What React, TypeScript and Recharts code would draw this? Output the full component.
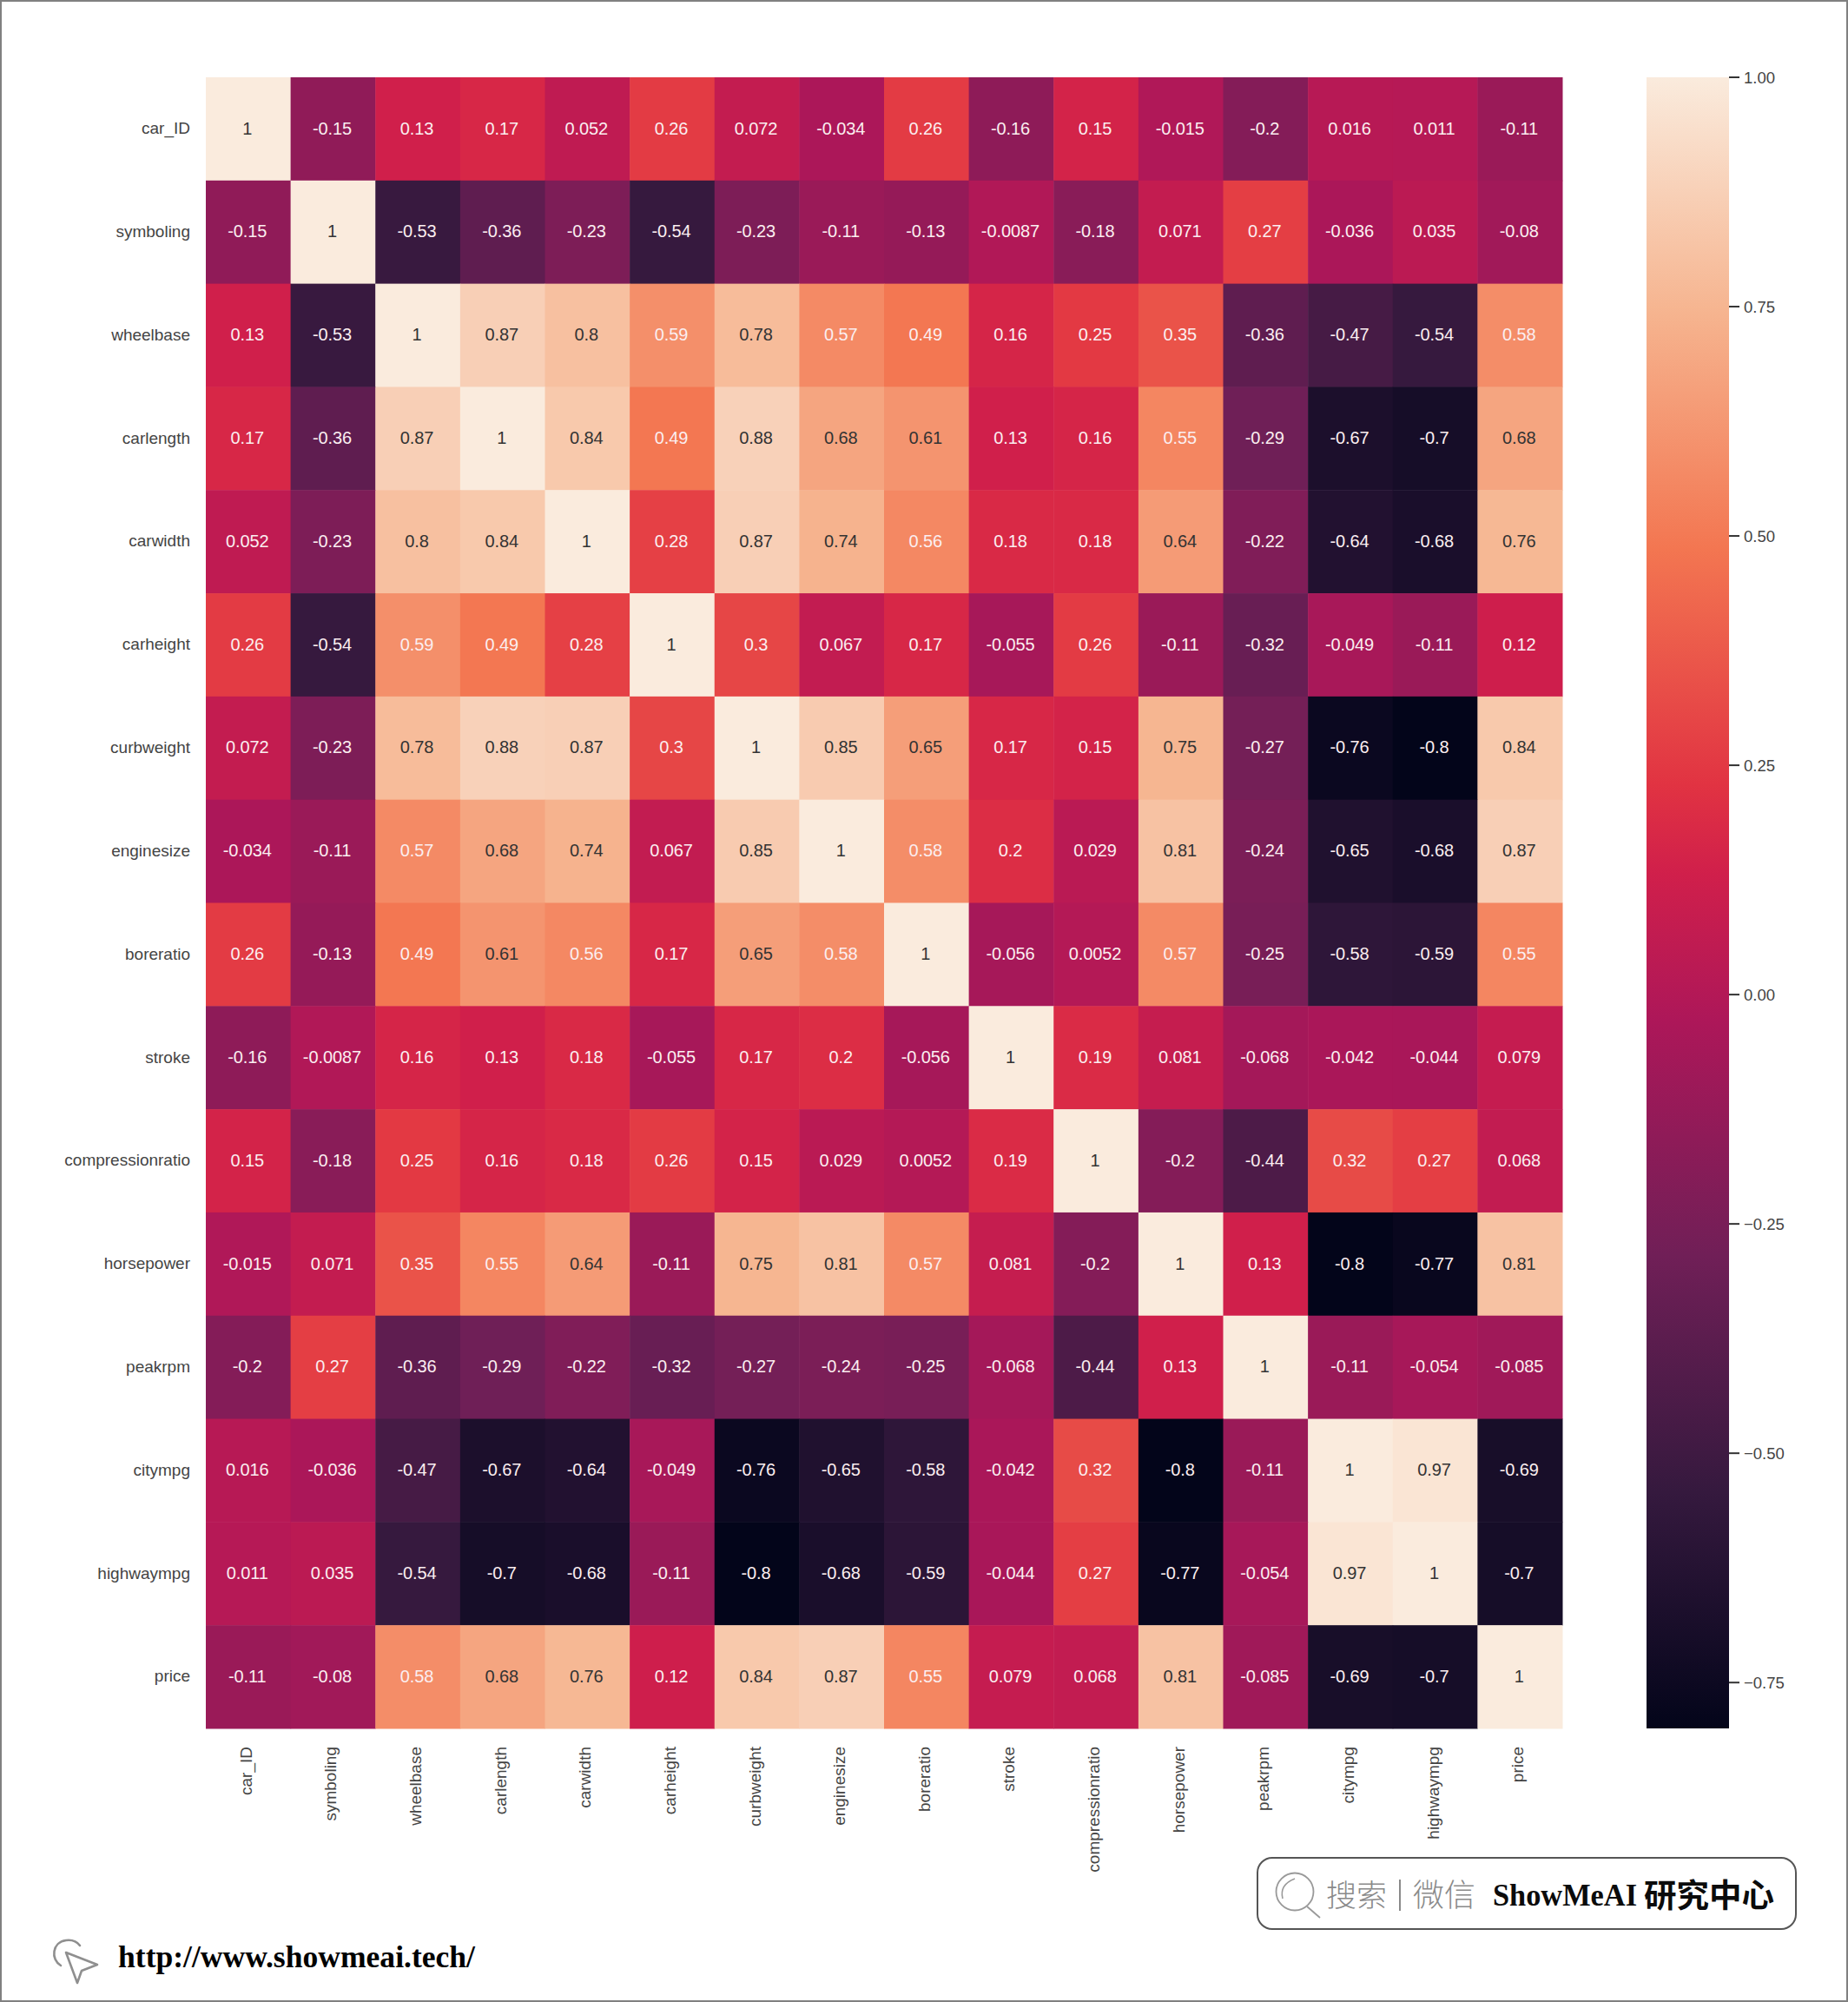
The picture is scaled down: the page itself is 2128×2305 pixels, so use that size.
import React from 'react';
import { ScatterChart, Scatter, BarChart, Bar, XAxis, YAxis } from 'recharts';

const W = 2128;
const H = 2305;

// plot box of the heatmap
const PLOT_L = 237;
const PLOT_R = 1799;
const PLOT_T = 89;
const PLOT_B = 1990;
const CB_L = 1896;
const CB_R = 1991;

const features = [
  'car_ID', 'symboling', 'wheelbase', 'carlength', 'carwidth', 'carheight',
  'curbweight', 'enginesize', 'boreratio', 'stroke', 'compressionratio',
  'horsepower', 'peakrpm', 'citympg', 'highwaympg', 'price',
];

const carId = [1, -0.15, 0.13, 0.17, 0.052, 0.26, 0.072, -0.034, 0.26, -0.16, 0.15, -0.015, -0.2, 0.016, 0.011, -0.11];
const symboling = [-0.15, 1, -0.53, -0.36, -0.23, -0.54, -0.23, -0.11, -0.13, -0.0087, -0.18, 0.071, 0.27, -0.036, 0.035, -0.08];
const wheelbase = [0.13, -0.53, 1, 0.87, 0.8, 0.59, 0.78, 0.57, 0.49, 0.16, 0.25, 0.35, -0.36, -0.47, -0.54, 0.58];
const carlength = [0.17, -0.36, 0.87, 1, 0.84, 0.49, 0.88, 0.68, 0.61, 0.13, 0.16, 0.55, -0.29, -0.67, -0.7, 0.68];
const carwidth = [0.052, -0.23, 0.8, 0.84, 1, 0.28, 0.87, 0.74, 0.56, 0.18, 0.18, 0.64, -0.22, -0.64, -0.68, 0.76];
const carheight = [0.26, -0.54, 0.59, 0.49, 0.28, 1, 0.3, 0.067, 0.17, -0.055, 0.26, -0.11, -0.32, -0.049, -0.11, 0.12];
const curbweight = [0.072, -0.23, 0.78, 0.88, 0.87, 0.3, 1, 0.85, 0.65, 0.17, 0.15, 0.75, -0.27, -0.76, -0.8, 0.84];
const enginesize = [-0.034, -0.11, 0.57, 0.68, 0.74, 0.067, 0.85, 1, 0.58, 0.2, 0.029, 0.81, -0.24, -0.65, -0.68, 0.87];
const boreratio = [0.26, -0.13, 0.49, 0.61, 0.56, 0.17, 0.65, 0.58, 1, -0.056, 0.0052, 0.57, -0.25, -0.58, -0.59, 0.55];
const stroke = [-0.16, -0.0087, 0.16, 0.13, 0.18, -0.055, 0.17, 0.2, -0.056, 1, 0.19, 0.081, -0.068, -0.042, -0.044, 0.079];
const compressionratio = [0.15, -0.18, 0.25, 0.16, 0.18, 0.26, 0.15, 0.029, 0.0052, 0.19, 1, -0.2, -0.44, 0.32, 0.27, 0.068];
const horsepower = [-0.015, 0.071, 0.35, 0.55, 0.64, -0.11, 0.75, 0.81, 0.57, 0.081, -0.2, 1, 0.13, -0.8, -0.77, 0.81];
const peakrpm = [-0.2, 0.27, -0.36, -0.29, -0.22, -0.32, -0.27, -0.24, -0.25, -0.068, -0.44, 0.13, 1, -0.11, -0.054, -0.085];
const citympg = [0.016, -0.036, -0.47, -0.67, -0.64, -0.049, -0.76, -0.65, -0.58, -0.042, 0.32, -0.8, -0.11, 1, 0.97, -0.69];
const highwaympg = [0.011, 0.035, -0.54, -0.7, -0.68, -0.11, -0.8, -0.68, -0.59, -0.044, 0.27, -0.77, -0.054, 0.97, 1, -0.7];
const price = [-0.11, -0.08, 0.58, 0.68, 0.76, 0.12, 0.84, 0.87, 0.55, 0.079, 0.068, 0.81, -0.085, -0.69, -0.7, 1];

const matrix = [
  carId, symboling, wheelbase, carlength, carwidth, carheight, curbweight, enginesize,
  boreratio, stroke, compressionratio, horsepower, peakrpm, citympg, highwaympg, price,
];

const VMIN = -0.8;
const VMAX = 1;
const cbTicks = [-0.75, -0.5, -0.25, 0, 0.25, 0.5, 0.75, 1];
const centerTicks = features.map((_, i) => i + 0.5);

// rocket colormap: the 6 colour palette sits at k/7, plus both ends and one red
const rocketPos = [0, 1 / 7, 2 / 7, 3 / 7, 0.517, 4 / 7, 5 / 7, 6 / 7, 1];
const rocketRgb = [
  [3, 5, 26], [53, 25, 62], [112, 31, 87], [173, 23, 89], [208, 31, 75],
  [225, 51, 66], [243, 118, 81], [246, 180, 143], [250, 235, 221],
];

function rocket(t: number) {
  let i = 0;
  while (i < rocketPos.length - 2 && t > rocketPos[i + 1]) i++;
  const f = Math.min(1, Math.max(0, (t - rocketPos[i]) / (rocketPos[i + 1] - rocketPos[i])));
  return rocketRgb[i].map((c, k) => Math.round(c + (rocketRgb[i + 1][k] - c) * f));
}

function toCss(rgb: number[]) {
  return `rgb(${rgb[0]},${rgb[1]},${rgb[2]})`;
}

// same rule seaborn uses to pick the annotation colour
function annotColor(rgb: number[]) {
  const lin = rgb.map((c) => {
    const v = c / 255;
    return v <= 0.03928 ? v / 12.92 : Math.pow((v + 0.055) / 1.055, 2.4);
  });
  const lum = 0.2126 * lin[0] + 0.7152 * lin[1] + 0.0722 * lin[2];
  return lum > 0.408 ? '#333333' : '#fbeef0';
}

const cells = matrix.flatMap((row, r) =>
  row.map((value, c) => ({ col: c + 0.5, row: r + 0.5, value })),
);

const cbData = [{ name: 'colorbar', range: [VMIN, VMAX] }];

const FONT = '"Liberation Sans", Arial, sans-serif';
const cellW = (PLOT_R - PLOT_L) / features.length;
const cellH = (PLOT_B - PLOT_T) / features.length;

function HeatCell(props: any) {
  const { cx, cy, payload } = props;
  const rgb = rocket((payload.value - VMIN) / (VMAX - VMIN));
  return (
    <g>
      <rect
        x={cx - cellW / 2}
        y={cy - cellH / 2}
        width={cellW + 0.5}
        height={cellH + 0.5}
        fill={toCss(rgb)}
      />
      <text
        x={cx - 1}
        y={cy - 1}
        dy="0.36em"
        textAnchor="middle"
        fontFamily={FONT}
        fontSize={20}
        letterSpacing={-0.1}
        fill={annotColor(rgb)}
      >
        {String(payload.value)}
      </text>
    </g>
  );
}

function BottomTick(props: any) {
  const { x, y, payload } = props;
  const label = features[Math.round(payload.value - 0.5)];
  return (
    <text
      transform={`translate(${x + 4},${y}) rotate(-90)`}
      textAnchor="end"
      fontFamily={FONT}
      fontSize={19}
      fill="#444444"
    >
      {label}
    </text>
  );
}

function LeftTick(props: any) {
  const { x, y, payload } = props;
  const label = features[Math.round(payload.value - 0.5)];
  return (
    <text
      x={x + 1}
      y={y - 1}
      dy="0.36em"
      textAnchor="end"
      fontFamily={FONT}
      fontSize={19}
      fill="#444444"
    >
      {label}
    </text>
  );
}

function Watermarks() {
  return (
    <svg width={W} height={H} style={{ position: 'absolute', left: 0, top: 0 }}>
      {/* search box */}
      <rect x={1448} y={2139} width={620} height={82} rx={17} fill="#fff" stroke="#555" strokeWidth={2} />
      <circle cx={1491} cy={2178} r={21.5} fill="none" stroke="#999" strokeWidth={1.8} />
      <path d="M1505 2195 L1520 2208" stroke="#999" strokeWidth={1.8} fill="none" />
      <path d="M1477 2186 Q1473 2170 1491 2163" stroke="#999" strokeWidth={1.6} fill="none" />
      <text x={1527} y={2195} fontFamily='"Noto Sans CJK SC"' fontWeight={300} fontSize={35} fill="#8a8a8a">搜索</text>
      <path d="M1612 2164 V2200" stroke="#8a8a8a" strokeWidth={2} />
      <text x={1627} y={2195} fontFamily='"Noto Sans CJK SC"' fontWeight={300} fontSize={36} fill="#8a8a8a">微信</text>
      <text x={1719} y={2194} fontFamily='"Liberation Serif"' fontWeight={700} fontSize={36} fill="#0b0b0b" textLength={166} lengthAdjust="spacingAndGlyphs">ShowMeAI</text>
      <text x={1893} y={2196} fontFamily='"Noto Sans CJK SC"' fontWeight={700} fontSize={37} fill="#0b0b0b" textLength={150} lengthAdjust="spacingAndGlyphs">研究中心</text>

      {/* url footer */}
      <path d="M76 2248 L112 2262 L94 2269 L89 2283 Z" fill="#fff" stroke="#8f8f8f" strokeWidth={2.6} strokeLinejoin="round" />
      <path d="M70 2263 C58 2256 60 2236 76 2234 C84 2233 89 2236 92 2240" fill="none" stroke="#8f8f8f" strokeWidth={2.6} strokeLinecap="round" />
      <text x={136} y={2265} fontFamily='"Liberation Serif"' fontWeight={700} fontSize={36} fill="#000" textLength={411} lengthAdjust="spacingAndGlyphs">http://www.showmeai.tech/</text>
    </svg>
  );
}

export default function App() {
  return (
    <div style={{ position: 'absolute', left: 0, top: 0, width: W, height: H, background: '#fff' }}>
      <ScatterChart
        width={W}
        height={H}
        margin={{ top: PLOT_T, left: PLOT_L - 200, right: W - PLOT_R, bottom: H - PLOT_B - 100 }}
        style={{ position: 'absolute', left: 0, top: 0 }}
      >
        <XAxis
          type="number"
          dataKey="col"
          domain={[0, features.length]}
          ticks={centerTicks}
          interval={0}
          height={100}
          axisLine={false}
          tickLine={false}
          tickSize={0}
          tickMargin={21}
          tick={<BottomTick />}
        />
        <YAxis
          type="number"
          dataKey="row"
          domain={[0, features.length]}
          ticks={centerTicks}
          interval={0}
          reversed
          width={200}
          axisLine={false}
          tickLine={false}
          tickSize={0}
          tickMargin={19}
          tick={<LeftTick />}
        />
        <Scatter data={cells} isAnimationActive={false} shape={<HeatCell />} />
      </ScatterChart>

      <BarChart
        width={W}
        height={H}
        data={cbData}
        barCategoryGap={0}
        margin={{ top: PLOT_T, left: CB_L, right: W - CB_R - 100, bottom: H - PLOT_B }}
        style={{ position: 'absolute', left: 0, top: 0 }}
      >
        <defs>
          <linearGradient id="rocketBar" x1="0" y1="1" x2="0" y2="0">
            {rocketPos.map((p, i) => (
              <stop key={p} offset={p} stopColor={toCss(rocketRgb[i])} />
            ))}
          </linearGradient>
        </defs>
        <XAxis dataKey="name" hide />
        <YAxis
          orientation="right"
          type="number"
          domain={[VMIN, VMAX]}
          ticks={cbTicks}
          interval={0}
          width={100}
          axisLine={false}
          tickLine={{ stroke: '#333', strokeWidth: 2 }}
          tickSize={12}
          tickMargin={5}
          tick={{ fontFamily: FONT, fontSize: 18.5, fill: '#444444' }}
          tickFormatter={(v: number) => v.toFixed(2).replace('-', '\u2212')}
        />
        <Bar dataKey="range" fill="url(#rocketBar)" isAnimationActive={false} />
      </BarChart>

      <Watermarks />
      <div style={{ position: 'absolute', inset: 0, border: '2px solid #808080', boxSizing: 'border-box', pointerEvents: 'none' }} />
    </div>
  );
}
